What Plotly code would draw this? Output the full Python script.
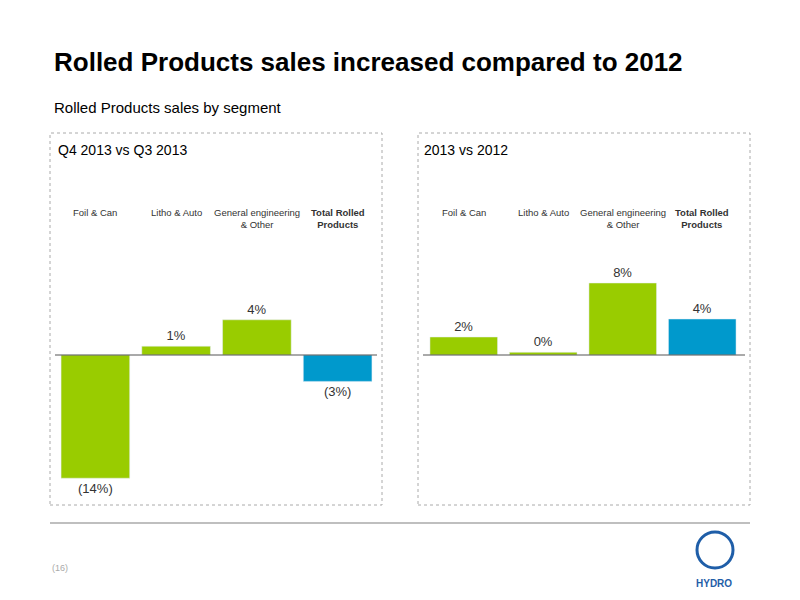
import plotly.graph_objects as go

categories = ["Foil & Can", "Litho & Auto", "General engineering<br>& Other", "<b>Total Rolled<br>Products</b>"]
q4_vs_q3 = [-14, 1, 4, -3]
y2013_vs_2012 = [2, 0.3, 8, 4]
q4_labels = ["(14%)", "1%", "4%", "(3%)"]
y_labels = ["2%", "0%", "8%", "4%"]
colors = ["#99CC00", "#99CC00", "#99CC00", "#0099CC"]

OFF = 8  # page body margin


def px(x):
    return (x - OFF) / 800


def py(y):
    return 1 - (y - OFF) / 600


zero = 355 - OFF

fig = go.Figure()
fig.add_trace(go.Bar(x=[0, 1, 2, 3], y=q4_vs_q3, text=q4_labels, textposition="outside",
                     marker_color=colors, width=0.85, xaxis="x", yaxis="y",
                     textfont=dict(size=13, color="#333333"), cliponaxis=False))
fig.add_trace(go.Bar(x=[0, 1, 2, 3], y=y2013_vs_2012, text=y_labels, textposition="outside",
                     marker_color=colors, width=0.85, xaxis="x2", yaxis="y2",
                     textfont=dict(size=13, color="#333333"), cliponaxis=False))

ax = dict(visible=False, range=[-0.5, 3.5], fixedrange=True)
fig.update_layout(
    width=800, height=600, margin=dict(l=0, r=0, t=0, b=0),
    paper_bgcolor="white", plot_bgcolor="rgba(0,0,0,0)", showlegend=False,
    font=dict(family="Liberation Sans, Arial", color="#000000"),
    xaxis=dict(domain=[px(55), px(378)], anchor="y", **ax),
    xaxis2=dict(domain=[px(424), px(742)], anchor="y2", **ax),
    yaxis=dict(domain=[0, 1], range=[-(600 - zero) / 8.8, zero / 8.8], visible=False),
    yaxis2=dict(domain=[0, 1], range=[-(600 - zero) / 9.0, zero / 9.0], visible=False, anchor="x2"),
)

shapes = []
for x0, x1 in [(50, 382), (418, 750)]:
    shapes.append(dict(type="rect", xref="paper", yref="paper", x0=px(x0), x1=px(x1),
                       y0=py(505), y1=py(133), line=dict(color="#aaaaaa", width=1, dash="dot")))
    shapes.append(dict(type="line", xref="paper", yref="paper", x0=px(x0 + 5), x1=px(x1 - 5),
                       y0=py(355), y1=py(355), line=dict(color="#555555", width=1)))
shapes.append(dict(type="line", xref="paper", yref="paper", x0=px(50), x1=px(750),
                   y0=py(523), y1=py(523), line=dict(color="#aaaaaa", width=1.5)))
shapes.append(dict(type="circle", xref="paper", yref="paper", x0=px(697), x1=px(733),
                   y0=py(568), y1=py(532), line=dict(color="#1f5ea8", width=3)))
fig.update_layout(shapes=shapes)

ann = [
    dict(x=52, y=62, text="<b>Rolled Products sales increased compared to 2012</b>", size=26),
    dict(x=52, y=108, text="Rolled Products sales by segment", size=15),
    dict(x=56, y=150, text="Q4 2013 vs Q3 2013", size=14),
    dict(x=422, y=150, text="2013 vs 2012", size=14),
    dict(x=50, y=568, text="(16)", size=9, color="#aaaaaa"),
    dict(x=694, y=583, text="<b>HYDRO</b>", size=10, color="#1f5ea8"),
]
annotations = [dict(xref="paper", yref="paper", x=px(a["x"]), y=py(a["y"]), text=a["text"],
                    showarrow=False, xanchor="left", yanchor="middle",
                    font=dict(size=a["size"], color=a.get("color", "#000000"))) for a in ann]
for xr in ["x", "x2"]:
    for i, c in enumerate(categories):
        annotations.append(dict(xref=xr, yref="paper", x=i, y=py(205), text=c, showarrow=False,
                                yanchor="top", font=dict(size=9.5, color="#333333")))
fig.update_layout(annotations=annotations)

fig.write_html("out.html")
